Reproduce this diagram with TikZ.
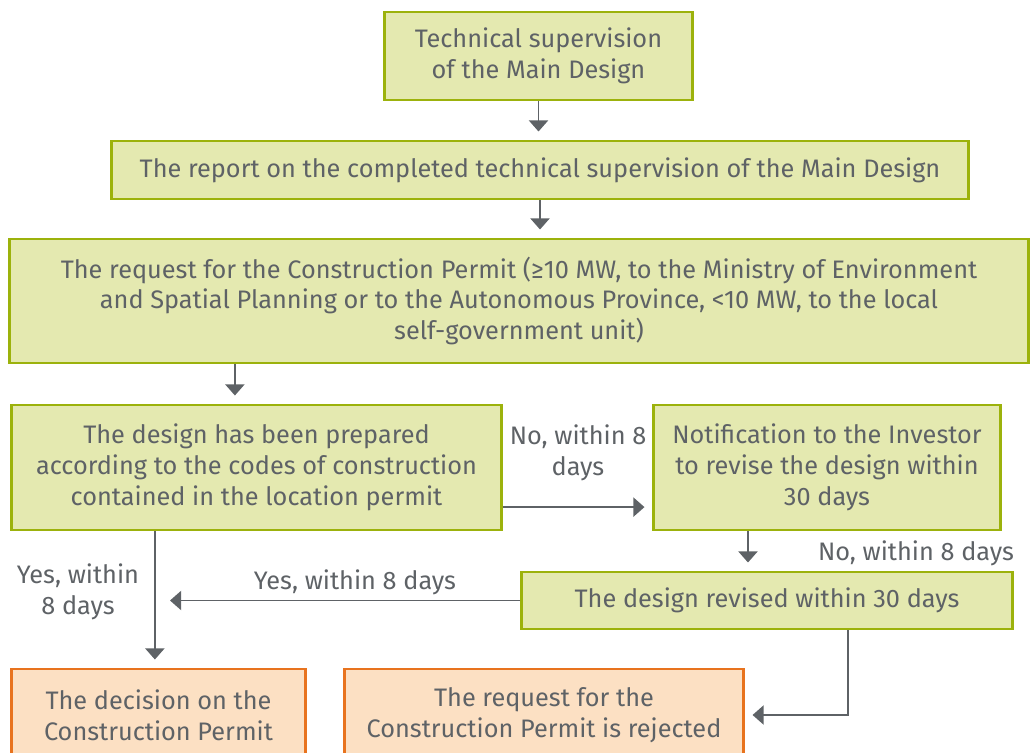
\documentclass[tikz,border=0pt]{standalone}
\usepackage{fontspec}
\setmainfont{Fira Sans}
\usetikzlibrary{arrows.meta}
\definecolor{stagefill}{HTML}{E4E9B0}
\definecolor{stageline}{HTML}{9CB20C}
\definecolor{resultfill}{HTML}{FCE0C3}
\definecolor{resultline}{HTML}{E8731E}
\definecolor{textgray}{HTML}{5E6266}
\tikzset{
  stage/.style={
    rectangle, draw=stageline, fill=stagefill,
    line width=2.1pt, align=center, inner sep=0pt,
  },
  result/.style={
    stage, draw=resultline, fill=resultfill,
  },
  line/.style={
    draw=textgray, line width=1.4pt,
    -{Triangle[width=0.48cm,length=0.28cm]}, shorten >=0.2cm,
  },
  note/.style={align=center, inner sep=0pt}
}
\begin{document}
\begin{tikzpicture}[x=0.025cm,y=-0.025cm,font=\fontsize{18}{22}\selectfont,text=textgray]
\useasboundingbox (0,0) rectangle (1031,753);
\clip (0,0) rectangle (1031,753);
\node [stage, minimum width=7.675cm, minimum height=2.2cm] (tsup) at (538.5,56) {Technical supervision\\of the Main Design};
\node [stage, minimum width=21.4cm, minimum height=1.45cm] (report) at (540,170) {The report on the completed technical supervision of the Main Design};
\node [stage, minimum width=25.45cm, minimum height=3.1cm] (request) at (519,301) {The request for the Construction Permit (≥10 MW, to the Ministry of Environment\\and Spatial Planning or to the Autonomous Province, <10 MW, to the local\\self-government unit)};
\node [stage, minimum width=12.225cm, minimum height=3.125cm] (design) at (256.5,467.5) {The design has been prepared\\according to the codes of construction\\contained in the location permit};
\node [stage, minimum width=8.65cm, minimum height=3.125cm] (notif) at (827,467.5) {Notification to the Investor\\to revise the design within\\30 days};
\node [stage, minimum width=12.25cm, minimum height=1.425cm] (revised) at (767,600.5) {The design revised within 30 days};
\node [result, minimum width=7.325cm, minimum height=2.3cm] (decision) at (158.5,715) {The decision on the\\Construction Permit};
\node [result, minimum width=9.95cm, minimum height=2.3cm] (rejected) at (544,715) {The request for the\\Construction Permit is rejected};
\coordinate (yesend) at (170,600.5);
% labels
\node [note] (nodays) at (578,453) {No, within 8\\days};
\node [note] (norev) at (916,553) {No, within 8 days};
\node [note] (yesrev) at (355,582) {Yes, within 8 days};
\node [note] (yesdes) at (78,592) {Yes, within\\8 days};
% connectors
\path [line] (tsup.south) -- (tsup.south |- report.north);
\path [line] (report.south) -- (report.south |- request.north);
\path [line] ([xshift=-0.54cm]design.north |- request.south) -- ([xshift=-0.54cm]design.north);
\path [line] ([yshift=-0.99cm]design.east) -- ([yshift=-0.99cm]design.east -| notif.west);
\path [line] ([xshift=-1.975cm]notif.south) -- ([xshift=-1.975cm]notif.south |- revised.north);
\path [line, shorten >=0pt] (revised.west) -- (yesend);
\path [line] ([xshift=-2.54cm]design.south) -- ([xshift=-2.54cm]design.south |- decision.north);
\path [line] ([xshift=2.025cm]revised.south) |- (rejected.east);
\end{tikzpicture}
\end{document}
